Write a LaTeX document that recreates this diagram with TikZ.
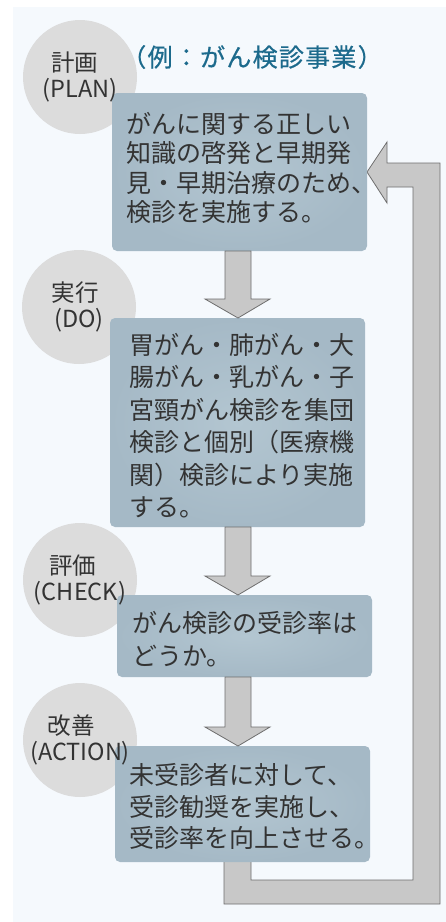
\documentclass[tikz,border=0pt]{standalone}
\usepackage{fontspec}
\setmainfont{Noto Sans CJK JP}
\newfontfamily\titlefont[LetterSpace=5,FakeBold=0.6]{Noto Sans CJK JP}
\usetikzlibrary{calc}
\definecolor{panelbg}{HTML}{F5F9FD}
\definecolor{circgray}{HTML}{DCDCDC}
\definecolor{boxc}{HTML}{A5B9C6}
\definecolor{boxlight}{HTML}{B3C6D1}
\definecolor{arrowfill}{HTML}{C8C8C8}
\definecolor{arrowline}{HTML}{6E6E6E}
\definecolor{titlec}{HTML}{1C6A8C}
\definecolor{textc}{HTML}{333333}
\pgfdeclarelayer{panel}
\pgfdeclarelayer{back}
\pgfsetlayers{panel,back,main}
\newcommand\blockarrow[2]{%
  \draw[arrowsty] let \p1=(#1), \p2=(#2) in
    (\x1-13pt,\y1) -- (\x1+13pt,\y1) -- (\x1+13pt,\y2+19pt) -- (\x1+32pt,\y2+19pt)
    -- (\x2,\y2) -- (\x1-33pt,\y2+19pt) -- (\x1-13pt,\y2+19pt) -- cycle;}
\begin{document}
\begin{tikzpicture}[x=1pt,y=-1pt,
  circ/.style={circle, fill=circgray, minimum size=114pt, inner sep=0pt, outer sep=0pt},
  box/.style={rectangle, rounded corners=5pt, minimum width=255pt, inner sep=0pt, outer sep=0pt, inner color=boxlight, outer color=boxc},
  btext/.style={anchor=north west, align=left, inner sep=0pt, text=textc},
  ctext/.style={align=center, inner sep=0pt, text=textc, font=\fontsize{23.5}{26.5}\selectfont},
  arrowsty/.style={fill=arrowfill, draw=arrowline, line width=0.8pt, line join=miter},
  titlesty/.style={inner sep=0pt, text=titlec, font=\titlefont\fontsize{25}{28}\selectfont}]
\useasboundingbox (0,0) rectangle (446,922);
\begin{pgfonlayer}{panel}
\fill[white] (0,0) rectangle (446,922);
\fill[panelbg] (13,7) rectangle (446,922);
\end{pgfonlayer}
% circles
\node[circ] (c1) at (80,77) {};
\node[circ] (c2) at (79,307) {};
\node[circ] (c3) at (80,580) {};
\node[circ] (c4) at (80,740) {};
% title
\node[titlesty] (ttl) at (252,57) {（例：がん検診事業）};
% boxes
\node[box, minimum height=158pt] (b1) at (239.5,172) {};
\node[box, minimum height=209pt] (b2) at (237.5,422.5) {};
\node[box, minimum height=82pt] (b3) at (244.5,636) {};
\node[box, minimum height=116pt] (b4) at (242.5,804) {};
% arrows
\coordinate (ax) at (238,0);
\blockarrow{b1.south -| ax}{b2.north -| ax}
\blockarrow{b2.south -| ax}{b3.north -| ax}
\blockarrow{b3.south -| ax}{b4.north -| ax}
\begin{pgfonlayer}{back}
\draw[arrowsty] (b4.center -| 224,0) -- (224,904) -- (440,904) -- (440,163) -- (387,163)
  -- (387,142) -- (b1.east) -- (387,203) -- (387,187) -- (413,187) -- (413,880)
  -- (251,880) -- (b4.center -| 251,0) -- cycle;
\end{pgfonlayer}
% box texts
\node[btext, font=\fontsize{25}{29.5}\selectfont] (t1) at (126,112)
  {がんに関する正しい\\知識の啓発と早期発\\見・早期治療のため、\\検診を実施する。};
\node[btext, font=\fontsize{25}{32.5}\selectfont] (t2) at (129,333)
  {胃がん・肺がん・大\\腸がん・乳がん・子\\宮頸がん検診を集団\\検診と個別（医療機\\関）検診により実施\\する。};
\node[btext, font=\fontsize{25}{33}\selectfont] (t3) at (132,611)
  {がん検診の受診率は\\どうか。};
\node[btext, font=\fontsize{25}{31.7}\selectfont] (t4) at (129,763)
  {未受診者に対して、\\受診勧奨を実施し、\\受診率を向上させる。};
% circle texts
\node[ctext] (l1) at (c1) {計画\hspace*{11pt}\\(PLAN)};
\node[ctext] (l2) at (c2) {実行\hspace*{8pt}\\(DO)};
\node[ctext] (l3) at (c3) {評価\hspace*{14pt}\\(CHECK)};
\node[ctext] (l4) at (c4) {改善\hspace*{18pt}\\(ACTION)};
\end{tikzpicture}
\end{document}
